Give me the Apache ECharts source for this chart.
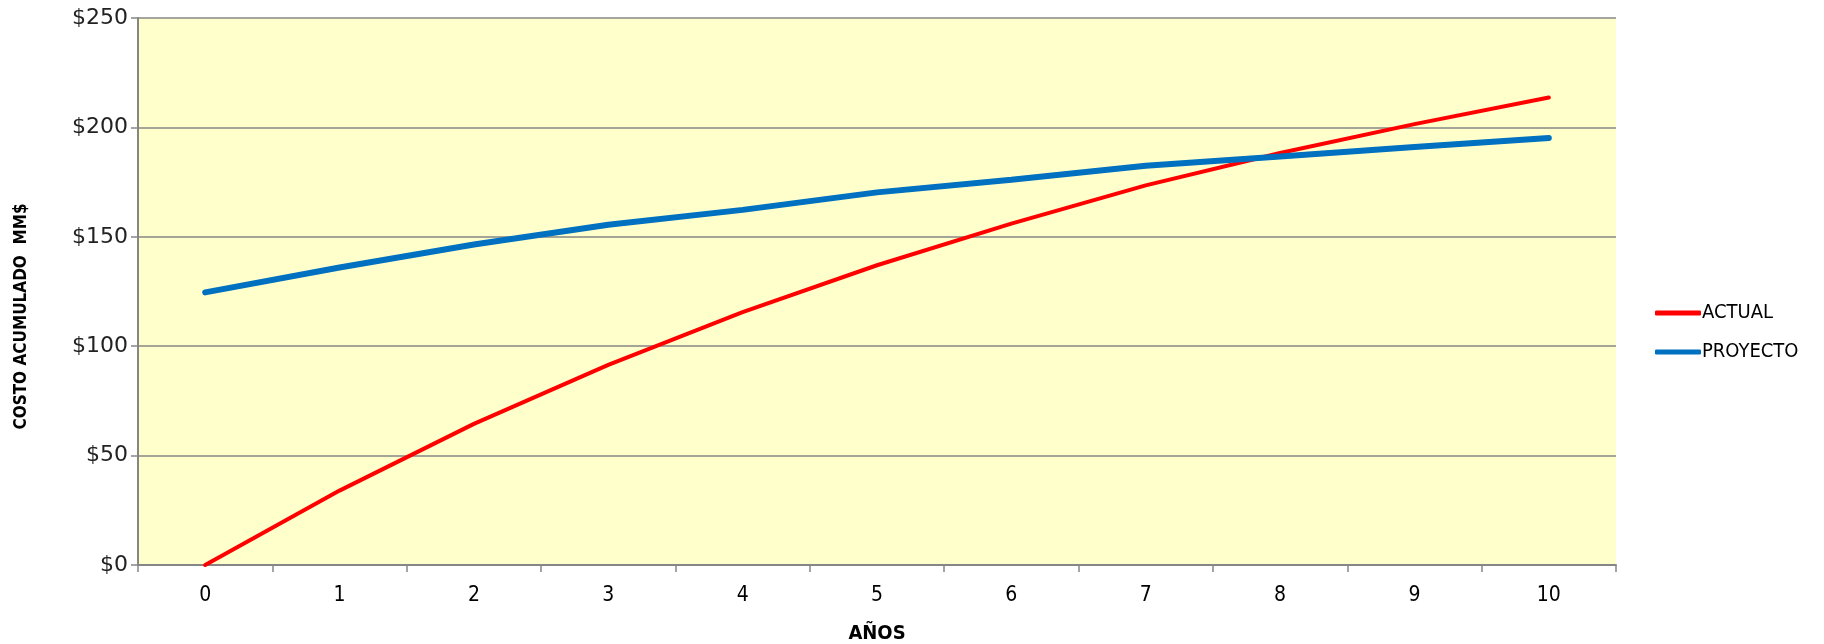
<!DOCTYPE html>
<html>
<head>
<meta charset="utf-8">
<script src="https://cdn.jsdelivr.net/npm/echarts@6/dist/echarts.min.js"></script>
<style>
  html, body { margin: 0; padding: 0; background: #ffffff; }
  #chart { width: 1824px; height: 644px; }
</style>
</head>
<body>
<div id="chart"></div>
<script>
// Years on the horizontal axis
const years = ['0', '1', '2', '3', '4', '5', '6', '7', '8', '9', '10'];
// Cumulative cost, millions of $
const actual = [0, 34, 64.5, 91.5, 115.6, 137, 156, 173.5, 188.3, 201.5, 213.7];
const proyecto = [124.6, 136, 146.5, 155.5, 162.3, 170.3, 176.1, 182.5, 186.7, 191, 195.2];
// Value axis ticks
const yTicks = { min: 0, max: 250, interval: 50 };

const narrow = '"DejaVu Sans Condensed", "Liberation Sans Narrow", "Arial Narrow", sans-serif';
const grey = '#868686';

const chart = echarts.init(document.getElementById('chart'), null, { renderer: 'canvas' });
chart.setOption({
  backgroundColor: '#ffffff',
  animation: false,
  grid: {
    left: 138, right: 208, top: 18, bottom: 79,
    outerBoundsMode: 'none',
    containLabel: false,
    show: true, backgroundColor: '#FFFFCC', borderWidth: 0
  },
  legend: {
    orient: 'vertical',
    left: 1650, top: 298,
    icon: 'roundRect',
    itemWidth: 46, itemHeight: 5, itemGap: 19,
    textStyle: { fontFamily: narrow, fontSize: 20, color: '#000000', padding: [0, 0, 0, -4] },
    data: ['ACTUAL', 'PROYECTO']
  },
  xAxis: {
    type: 'category',
    data: years,
    boundaryGap: true,
    name: 'AÑOS',
    nameLocation: 'middle',
    nameGap: 59,
    nameTextStyle: { fontFamily: narrow, fontWeight: 'bold', fontSize: 20, color: '#000000' },
    axisLine: { lineStyle: { color: grey, width: 2 } },
    axisTick: { show: true, length: 7, alignWithLabel: false, lineStyle: { color: grey, width: 1.5 } },
    axisLabel: { fontFamily: narrow, fontSize: 21, color: '#000000', margin: 20 },
    splitLine: { show: false }
  },
  yAxis: {
    type: 'value',
    min: yTicks.min, max: yTicks.max, interval: yTicks.interval,
    name: 'COSTO ACUMULADO  MM$',
    nameLocation: 'middle',
    nameGap: 108,
    nameTextStyle: { fontFamily: narrow, fontWeight: 'bold', fontSize: 17, color: '#000000', padding: [0, 50, 0, 0] },
    axisLine: { show: true, lineStyle: { color: grey, width: 2 } },
    axisTick: { show: true, length: 7, lineStyle: { color: grey, width: 1.5 } },
    axisLabel: {
      fontFamily: '"DejaVu Sans", Verdana, sans-serif', fontSize: 22, color: '#222222', margin: 10,
      formatter: v => '$' + v
    },
    splitLine: { show: true, lineStyle: { color: grey, width: 1.5 } }
  },
  series: [
    {
      name: 'ACTUAL', type: 'line', data: actual,
      symbol: 'none', smooth: false,
      color: '#FF0000',
      lineStyle: { color: '#FF0000', width: 4, cap: 'round' }
    },
    {
      name: 'PROYECTO', type: 'line', data: proyecto,
      symbol: 'none', smooth: false,
      color: '#0070C0',
      lineStyle: { color: '#0070C0', width: 6, cap: 'round' }
    }
  ]
});
</script>
</body>
</html>
